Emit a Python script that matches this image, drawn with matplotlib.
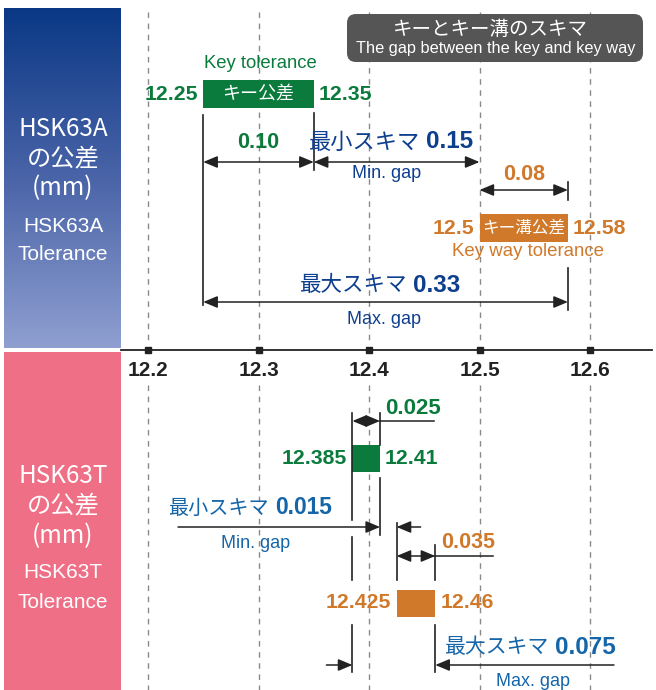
import numpy as np
import matplotlib
matplotlib.use("Agg")
import matplotlib.pyplot as plt
from matplotlib.colors import LinearSegmentedColormap
from matplotlib.patches import Rectangle, FancyBboxPatch

plt.rcParams['font.family'] = ['Liberation Sans', 'Noto Sans CJK JP']

# axis ticks (mm)
ticks = [12.2, 12.3, 12.4, 12.5, 12.6]
tick_labels = ['12.2', '12.3', '12.4', '12.5', '12.6']

# HSK63A tolerances (mm)
a_key = [12.25, 12.35]
a_keyway = [12.5, 12.58]
a_key_tol = '0.10'
a_keyway_tol = '0.08'
a_min_gap = '0.15'
a_max_gap = '0.33'

# HSK63T tolerances (mm)
t_key = [12.385, 12.41]
t_keyway = [12.425, 12.46]
t_key_tol = '0.025'
t_keyway_tol = '0.035'
t_min_gap = '0.015'
t_max_gap = '0.075'

GREEN = '#0a7b3c'
ORANGE = '#d0792b'
NAVY = '#0e3e8e'
BLUE = '#1565a9'
INK = '#222222'
JP = ['Noto Sans CJK JP', 'DejaVu Sans']

# 1105 px per mm, 12.2 sits at x=148 px
SCALE = 1105.0
X0 = 12.2 - 148 / SCALE


def px(p):
    return X0 + p / SCALE


def d(p):
    return p / SCALE


fig = plt.figure(figsize=(6.56, 6.90), dpi=100)
ax = fig.add_axes([0, 0, 1, 1])
ax.set_xlim(px(0), px(656))
ax.set_ylim(690, 0)
ax.axis('off')

# left panels
cmap = LinearSegmentedColormap.from_list('hsk', ['#0a3885', '#4a64a8', '#8f9fd0'])
grad = np.linspace(0, 1, 256).reshape(-1, 1)
ax.imshow(grad, extent=(px(4), px(121), 348, 8), aspect='auto', cmap=cmap, origin='upper', zorder=0)
ax.add_patch(Rectangle((px(4), 352), d(117), 340, color='#ef6f86', lw=0, zorder=0))

for y, s, fs, fam in [(129, 'HSK63A', 17.5, JP), (158, 'の公差', 17.5, JP), (188, '(mm)', 17.5, JP),
                      (226, 'HSK63A', 15, None), (254, 'Tolerance', 15, None)]:
    ax.text(px(63), y, s, color='white', fontsize=fs, ha='center', va='center', family=fam)
for y, s, fs, fam in [(476, 'HSK63T', 17.5, JP), (505, 'の公差', 17.5, JP), (536, '(mm)', 17.5, JP),
                      (573, 'HSK63T', 15, None), (602, 'Tolerance', 15, None)]:
    ax.text(px(63), y, s, color='white', fontsize=fs, ha='center', va='center', family=fam)

# axis + grid
ax.plot([px(121), px(652)], [350, 350], color=INK, lw=1.3)
for t, lab in zip(ticks, tick_labels):
    ax.plot([t, t], [12, 344], color='#8a8a8a', lw=1, ls=(0, (4, 4)), zorder=0)
    ax.plot([t, t], [385, 690], color='#8a8a8a', lw=1, ls=(0, (4, 4)), zorder=0)
    ax.plot(t, 350, marker='s', ms=4, color=INK)
    ax.text(t, 371, lab, ha='center', va='center', fontsize=15, weight='bold', color=INK)

HEAD = ',head_length=0.86,head_width=0.36'


def arrow(x0, x1, y, style='<|-|>'):
    ax.annotate('', xy=(x1, y), xytext=(x0, y),
                arrowprops=dict(arrowstyle=style + HEAD, color=INK, lw=1.1, shrinkA=0, shrinkB=0,
                                mutation_scale=10))


def vline(x, segs):
    for y0, y1 in segs:
        ax.plot([x, x], [y0, y1], color=INK, lw=1.2)


def gap_label(xs, y, jp, num, color, jsize=15.5, nsize=17.5):
    ax.text(xs - d(3), y, jp, ha='right', va='center', fontsize=jsize, color=color, family=JP)
    ax.text(xs + d(3), y, num, ha='left', va='center', fontsize=nsize, weight='bold', color=color)


# callout
box = FancyBboxPatch((px(347), 14), d(296), 48, boxstyle='round,pad=0,rounding_size=%f' % d(9),
                     mutation_aspect=SCALE, fc='#555555', ec='none')
ax.add_patch(box)
ax.text(px(490), 29, 'キーとキー溝のスキマ', color='white', fontsize=14, ha='center', va='center', family=JP)
ax.text(px(496), 49, 'The gap between the key and key way', color='white', fontsize=11.8, ha='center', va='center')

# ---- HSK63A ----
ax.text(np.mean(a_key) + d(2), 64, 'Key tolerance', color=GREEN, fontsize=13.3, ha='center', va='center')
ax.add_patch(Rectangle((a_key[0], 80), a_key[1] - a_key[0], 28, color=GREEN, lw=0))
ax.text(np.mean(a_key), 94, 'キー公差', color='white', fontsize=13, ha='center', va='center', family=JP)
ax.text(a_key[0] - d(5), 94, '%.2f' % a_key[0], color=GREEN, fontsize=15.3, weight='bold', ha='right', va='center')
ax.text(a_key[1] + d(5), 94, '%.2f' % a_key[1], color=GREEN, fontsize=15.3, weight='bold', ha='left', va='center')
vline(a_key[0], [(115, 305)])
vline(a_key[1], [(113, 170)])
ax.text(np.mean(a_key), 142, a_key_tol, color=GREEN, fontsize=15.5, weight='bold', ha='center', va='center')
arrow(a_key[0], a_key[1], 162)

gap_label(px(423), 142, '最小スキマ', a_min_gap, NAVY, jsize=16)
arrow(a_key[1], a_keyway[0], 162)
ax.text(px(387), 174, 'Min. gap', color=NAVY, fontsize=13, ha='center', va='center')

ax.text(np.mean(a_keyway), 175, a_keyway_tol, color=ORANGE, fontsize=15.5, weight='bold', ha='center', va='center')
vline(a_keyway[1], [(182, 200), (268, 310)])
arrow(a_keyway[0], a_keyway[1], 190)
ax.add_patch(Rectangle((a_keyway[0], 214), a_keyway[1] - a_keyway[0], 28, color=ORANGE, lw=0))
ax.text(np.mean(a_keyway), 228, 'キー溝公差', color='white', fontsize=12, ha='center', va='center', family=JP)
ax.text(a_keyway[0] - d(5), 228, '%g' % a_keyway[0], color=ORANGE, fontsize=15.3, weight='bold', ha='right', va='center')
ax.text(a_keyway[1] + d(5), 228, '%.2f' % a_keyway[1], color=ORANGE, fontsize=15.3, weight='bold', ha='left', va='center')
ax.text(np.mean(a_keyway) + d(4), 252, 'Key way tolerance', color=ORANGE, fontsize=13.4, ha='center', va='center')

gap_label(px(410), 285, '最大スキマ', a_max_gap, NAVY)
arrow(a_key[0], a_keyway[1], 302)
ax.text(px(384), 319, 'Max. gap', color=NAVY, fontsize=13, ha='center', va='center')

# ---- HSK63T ----
ax.text(t_key[1] + d(5), 408, t_key_tol, color=GREEN, fontsize=16, weight='bold', ha='left', va='center')
arrow(t_key[0], t_key[1], 421)
ax.plot([t_key[1], t_key[1] + d(54)], [421, 421], color=INK, lw=1.1)
vline(t_key[0], [(413, 520), (537, 580), (625, 672)])
vline(t_key[1], [(413, 445), (478, 535)])
ax.add_patch(Rectangle((t_key[0], 445), t_key[1] - t_key[0], 27, color=GREEN, lw=0))
ax.text(t_key[0] - d(6), 459, '%g' % t_key[0], color=GREEN, fontsize=15.3, weight='bold', ha='right', va='center')
ax.text(t_key[1] + d(5), 459, '%g' % t_key[1], color=GREEN, fontsize=15.3, weight='bold', ha='left', va='center')

gap_label(px(272), 508, '最小スキマ', t_min_gap, BLUE, jsize=14.5, nsize=16.4)
arrow(px(178), t_key[1], 527, style='-|>')
arrow(t_keyway[0] + d(24), t_keyway[0], 527, style='-|>')
ax.text(px(256), 543, 'Min. gap', color=BLUE, fontsize=13, ha='center', va='center')

vline(t_keyway[0], [(523, 580)])
vline(t_keyway[1], [(545, 580), (625, 672)])
ax.text(t_keyway[1] + d(6), 543, t_keyway_tol, color=ORANGE, fontsize=15.5, weight='bold', ha='left', va='center')
arrow(t_keyway[0], t_keyway[1], 556)
ax.plot([t_keyway[1], t_keyway[1] + d(58)], [556, 556], color=INK, lw=1.1)
ax.add_patch(Rectangle((t_keyway[0], 590), t_keyway[1] - t_keyway[0], 27, color=ORANGE, lw=0))
ax.text(t_keyway[0] - d(6), 603, '%g' % t_keyway[0], color=ORANGE, fontsize=15.3, weight='bold', ha='right', va='center')
ax.text(t_keyway[1] + d(5), 603, '%g' % t_keyway[1], color=ORANGE, fontsize=15.3, weight='bold', ha='left', va='center')

gap_label(px(552), 647, '最大スキマ', t_max_gap, BLUE, jsize=15)
arrow(t_key[0] - d(26), t_key[0], 665, style='-|>')
arrow(px(614), t_keyway[1], 665, style='-|>')
ax.text(px(533), 682, 'Max. gap', color=BLUE, fontsize=13, ha='center', va='center')

fig.savefig('out.png', dpi=100)
